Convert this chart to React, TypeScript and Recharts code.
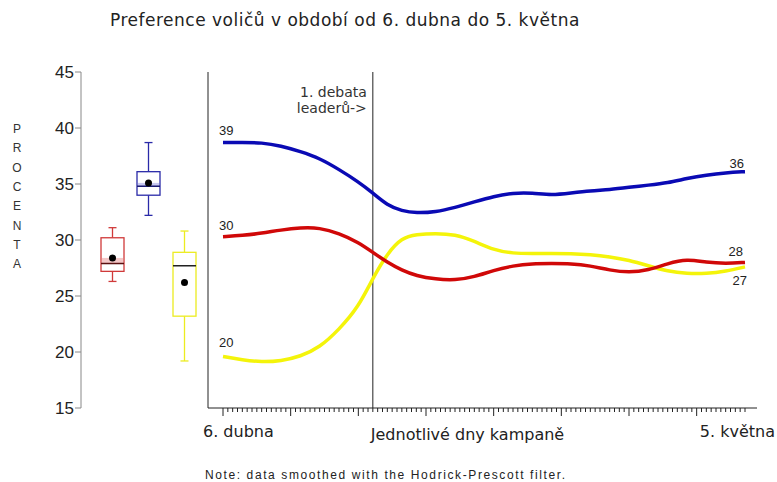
import React from 'react';
import { ComposedChart, LineChart, Bar, Line, XAxis, YAxis, ReferenceLine, Label } from 'recharts';

const TITLE = 'Preference voličů v období od 6. dubna do 5. května';
const Y_LABEL = 'PROCENTA';
const NOTE = 'Note: data smoothed with the Hodrick-Prescott filter.';
const X_START_LABEL = '6. dubna';
const X_END_LABEL = '5. května';
const X_TITLE = 'Jednotlivé dny kampaně';
const DEBATE_LABEL = ['1. debata', 'leaderů->'];
const DEBATE_DAY = 31;

const Y_TICKS = [15, 20, 25, 30, 35, 40, 45];
const LAST_DAY = 108;
const MAJOR_EVERY = 14;

// box plots (summary of each series)
const BOX_NAMES = ['red', 'blue', 'yellow'];
const BOX_MIN = [26.3, 32.2, 19.2];
const BOX_Q1 = [27.2, 34.0, 23.2];
const BOX_MEDIAN = [27.9, 34.8, 27.7];
const BOX_Q3 = [30.2, 36.1, 28.9];
const BOX_MAX = [31.1, 38.7, 30.8];
const BOX_MEAN = [28.4, 35.1, 26.2];

// smoothed daily series
const DAYS = [0, 4, 8, 12, 16, 20, 24, 28, 31, 34, 37, 40, 44, 48, 52, 56, 60, 64, 68, 72, 76, 80, 84, 88, 92, 96, 100, 104, 108];
const BLUE = [38.7, 38.7, 38.7, 38.4, 37.9, 37.3, 36.3, 35.2, 34.2, 33.1, 32.6, 32.4, 32.5, 32.9, 33.4, 33.9, 34.2, 34.2, 34.0, 34.2, 34.4, 34.5, 34.7, 34.9, 35.1, 35.5, 35.8, 36.0, 36.1];
const RED = [30.3, 30.4, 30.6, 30.9, 31.1, 31.1, 30.6, 29.8, 28.9, 28.0, 27.3, 26.8, 26.5, 26.4, 26.7, 27.3, 27.7, 27.9, 27.9, 27.9, 27.7, 27.3, 27.1, 27.3, 27.9, 28.3, 28.0, 27.9, 28.0];
const YELLOW = [19.6, 19.3, 19.1, 19.2, 19.6, 20.4, 22.0, 24.0, 26.6, 28.8, 30.2, 30.5, 30.6, 30.5, 29.9, 29.1, 28.8, 28.8, 28.8, 28.8, 28.7, 28.5, 28.2, 27.7, 27.2, 27.0, 27.0, 27.2, 27.6];

const START_LABELS = ['39', '30', '20'];
const END_LABELS = ['36', '28', '27'];

const LINE_COLORS = ['#0a0ab4', '#d00808', '#f4f40a'];
const BOX_STROKE = ['#d03a3a', '#2a2aa8', '#ecec20'];
const BOX_FILL = ['#f4c8c8', '#c8c8f0', '#ffffff'];
const BOX_MEDIAN_COLOR = ['#5a1010', '#1a1a70', '#222222'];

const boxData = BOX_NAMES.map((name, i) => ({
  name,
  range: [BOX_MIN[i], BOX_MAX[i]],
  min: BOX_MIN[i], q1: BOX_Q1[i], median: BOX_MEDIAN[i], q3: BOX_Q3[i], max: BOX_MAX[i], mean: BOX_MEAN[i], idx: i,
}));

const lineData = DAYS.map((day, i) => ({ day, blue: BLUE[i], red: RED[i], yellow: YELLOW[i] }));
const X_TICKS = Array.from({ length: LAST_DAY + 1 }, (_, i) => i);

const BoxShape = (props: any) => {
  const { x, y, width, height, payload } = props;
  const top = Math.min(y, y + height);
  const h = Math.abs(height);
  const { min, max, q1, q3, median, mean, idx } = payload;
  const py = (v: number) => top + ((max - v) / (max - min)) * h;
  const cx = x + width / 2;
  const stroke = BOX_STROKE[idx];
  return (
    <g>
      <line x1={cx} x2={cx} y1={py(max)} y2={py(q3)} stroke={stroke} strokeWidth={1.3} />
      <line x1={cx} x2={cx} y1={py(q1)} y2={py(min)} stroke={stroke} strokeWidth={1.3} />
      <line x1={cx - 4} x2={cx + 4} y1={py(max)} y2={py(max)} stroke={stroke} strokeWidth={1.3} />
      <line x1={cx - 4} x2={cx + 4} y1={py(min)} y2={py(min)} stroke={stroke} strokeWidth={1.3} />
      <rect x={x} y={py(q3)} width={width} height={py(q1) - py(q3)} fill="#fff" stroke={stroke} strokeWidth={1.3} />
      <rect x={x + 1} y={py(Math.max(median, mean))} width={width - 2} height={Math.abs(py(median) - py(mean))} fill={BOX_FILL[idx]} />
      <line x1={x} x2={x + width} y1={py(median)} y2={py(median)} stroke={BOX_MEDIAN_COLOR[idx]} strokeWidth={1.5} />
      <circle cx={cx} cy={py(mean)} r={3.5} fill="#000" />
    </g>
  );
};

const DayTick = (props: any) => {
  const { x, y, payload } = props;
  const v = payload.value;
  const len = v % MAJOR_EVERY === 0 ? 8 : 4;
  const font = { fontFamily: 'DejaVu Sans', fontSize: 16, fill: '#222' };
  return (
    <g>
      <line x1={x} x2={x} y1={y} y2={y + len} stroke="#222" strokeWidth={1} />
      {v === 0 && <text x={x - 20} y={y + 29} {...font}>{X_START_LABEL}</text>}
      {v === LAST_DAY && <text x={x + 30} y={y + 29} textAnchor="end" {...font}>{X_END_LABEL}</text>}
    </g>
  );
};

const makeEndLabel = (si: number, startDy: number, endDx: number, endDy: number) => (props: any) => {
  const { x, y, index } = props;
  const style = { fontFamily: 'Liberation Sans', fontSize: 13, fill: '#222' };
  if (index === 0) return <text key="s" x={x - 4} y={y + startDy} {...style}>{START_LABELS[si]}</text>;
  if (index === DAYS.length - 1) return <text key="e" x={x + endDx} y={y + endDy} textAnchor="end" {...style}>{END_LABELS[si]}</text>;
  return null;
};

const DebateLabel = (props: any) => {
  const { viewBox } = props;
  const style = { fontFamily: 'DejaVu Sans', fontSize: 14, fill: '#333' };
  return (
    <g>
      <text x={viewBox.x - 6} y={viewBox.y + 25} textAnchor="end" {...style}>{DEBATE_LABEL[0]}</text>
      <text x={viewBox.x - 6} y={viewBox.y + 41} textAnchor="end" {...style}>{DEBATE_LABEL[1]}</text>
    </g>
  );
};

export default function App() {
  return (
    <div style={{ position: 'absolute', left: 0, top: 0, width: 777, height: 482, background: '#fff', overflow: 'hidden' }}>
      <div style={{ position: 'absolute', left: 110, top: 10, fontFamily: 'DejaVu Sans', fontSize: 17, letterSpacing: 0.5, color: '#222', whiteSpace: 'nowrap' }}>{TITLE}</div>
      <div style={{ position: 'absolute', left: 0, top: 0 }}>
        <ComposedChart width={777} height={482} data={boxData} margin={{ top: 72, right: 575, bottom: 74, left: 21 }}>
          <XAxis dataKey="name" hide padding={{ left: 13, right: 0 }} />
          <YAxis domain={[15, 45]} ticks={Y_TICKS} interval={0} width={60} tickSize={6} tickMargin={1}
            axisLine={{ stroke: '#888' }} tickLine={{ stroke: '#888' }}
            tick={{ fill: '#222', fontSize: 17, fontFamily: 'Liberation Sans' }} />
          <Bar dataKey="range" barSize={23} shape={<BoxShape />} isAnimationActive={false} />
        </ComposedChart>
      </div>
      <div style={{ position: 'absolute', left: 0, top: 0 }}>
        <LineChart width={777} height={482} data={lineData} margin={{ top: 72, right: 20, bottom: 44, left: 207 }}>
          <XAxis type="number" dataKey="day" domain={[0, LAST_DAY]} ticks={X_TICKS} interval={0}
            padding={{ left: 15, right: 12 }} height={30} tickSize={0} tickMargin={0} tickLine={false}
            axisLine={{ stroke: '#222' }} tick={<DayTick />}>
            <Label value={X_TITLE} position="insideBottom" offset={-2} dx={-15}
              style={{ fontFamily: 'DejaVu Sans', fontSize: 16, fill: '#222' }} />
          </XAxis>
          <YAxis domain={[15, 45]} width={1} tick={false} tickLine={false} axisLine={{ stroke: '#222' }} />
          <ReferenceLine x={DEBATE_DAY} stroke="#222" strokeWidth={1} label={<DebateLabel />} />
          <Line type="basis" dataKey="yellow" stroke={LINE_COLORS[2]} strokeWidth={3.5} dot={false} isAnimationActive={false} label={makeEndLabel(2, -9, 2, 18)} />
          <Line type="basis" dataKey="red" stroke={LINE_COLORS[1]} strokeWidth={3.5} dot={false} isAnimationActive={false} label={makeEndLabel(1, -7, -2, -6)} />
          <Line type="basis" dataKey="blue" stroke={LINE_COLORS[0]} strokeWidth={3.5} dot={false} isAnimationActive={false} label={makeEndLabel(0, -8, -1, -4)} />
        </LineChart>
      </div>
      <div style={{ position: 'absolute', left: 0, top: 0, width: 30 }}>
        {Y_LABEL.split('').map((ch, i) => (
          <div key={i} style={{ position: 'absolute', left: 11, top: 122 + i * 19.3, width: 12, textAlign: 'center', fontFamily: 'Liberation Sans', fontSize: 12, color: '#333' }}>{ch}</div>
        ))}
      </div>
      <div style={{ position: 'absolute', left: 205, top: 468, fontFamily: 'Liberation Sans', fontSize: 12, letterSpacing: 1.6, color: '#222', whiteSpace: 'nowrap' }}>{NOTE}</div>
    </div>
  );
}
